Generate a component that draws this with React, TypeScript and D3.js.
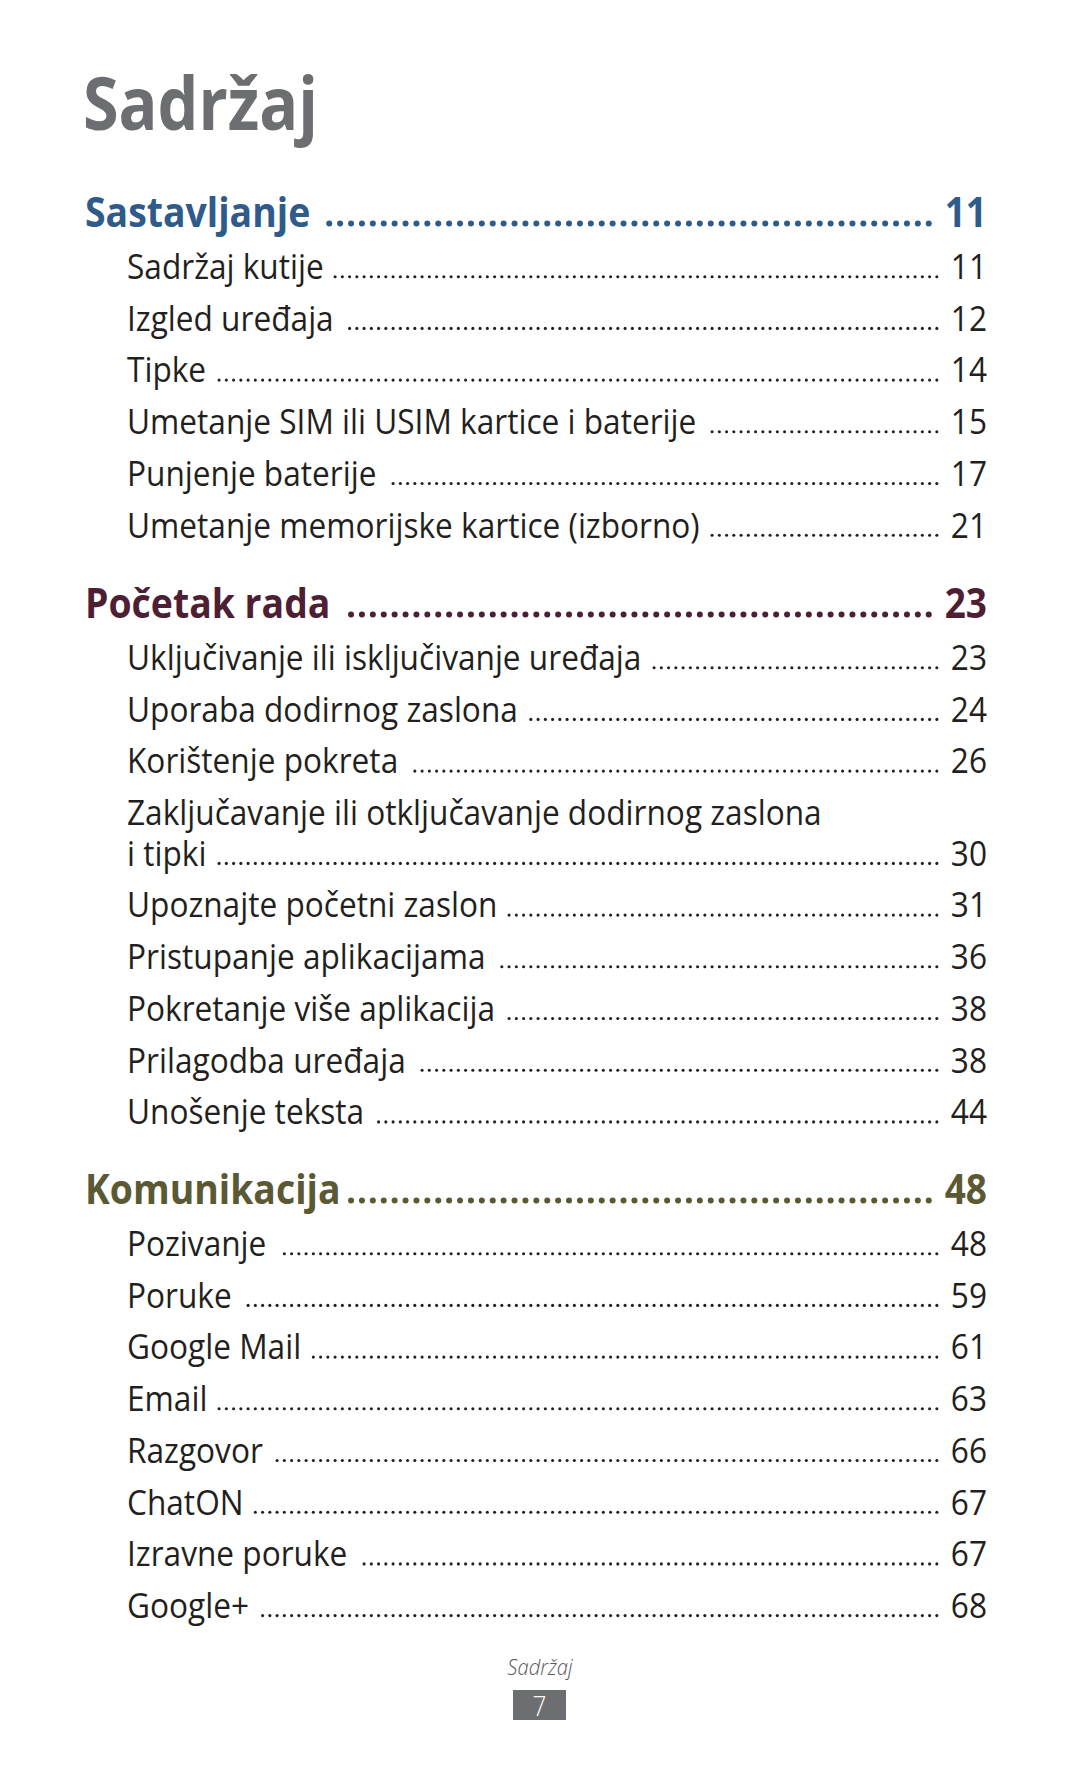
import React, { useEffect, useRef } from "react";
import * as d3 from "d3";

// ---- content ----
const pageTitle = "Sadržaj";
const sectionTitles = ["Sastavljanje", "Početak rada", "Komunikacija"];
const sectionPages = ["11", "23", "48"];
const sectionColors = ["#2f5b8b", "#4e1e34", "#5a5934"];

const sec1Entries = [
  "Sadržaj kutije",
  "Izgled uređaja",
  "Tipke",
  "Umetanje SIM ili USIM kartice i baterije",
  "Punjenje baterije",
  "Umetanje memorijske kartice (izborno)",
];
const sec1Pages = ["11", "12", "14", "15", "17", "21"];

const sec2Entries = [
  "Uključivanje ili isključivanje uređaja",
  "Uporaba dodirnog zaslona",
  "Korištenje pokreta",
  "Zaključavanje ili otključavanje dodirnog zaslona|i tipki",
  "Upoznajte početni zaslon",
  "Pristupanje aplikacijama",
  "Pokretanje više aplikacija",
  "Prilagodba uređaja",
  "Unošenje teksta",
];
const sec2Pages = ["23", "24", "26", "30", "31", "36", "38", "38", "44"];

const sec3Entries = [
  "Pozivanje",
  "Poruke",
  "Google Mail",
  "Email",
  "Razgovor",
  "ChatON",
  "Izravne poruke",
  "Google+",
];
const sec3Pages = ["48", "59", "61", "63", "66", "67", "67", "68"];

const footerLabel = "Sadržaj";
const footerPage = "7";

const sections = [
  { entries: sec1Entries, pages: sec1Pages },
  { entries: sec2Entries, pages: sec2Pages },
  { entries: sec3Entries, pages: sec3Pages },
];

const FONT = "'Open Sans', 'Noto Sans', sans-serif";

export default function App() {
  const ref = useRef<SVGSVGElement>(null);

  useEffect(() => {
    const svg = d3.select(ref.current);
    svg.selectAll("*").remove();

    const leftX = 86;
    const entryX = 127;
    const rightX = 987;

    const addText = (
      str: string,
      x: number,
      y: number,
      size: number,
      weight: number,
      color: string,
      sx: number,
      anchor = "start",
      style = "normal"
    ) => {
      const t = svg
        .append("text")
        .attr("transform", `translate(${x},${y}) scale(${sx},1)`)
        .attr("text-anchor", anchor)
        .attr("font-family", FONT)
        .attr("font-size", size)
        .attr("font-weight", weight)
        .attr("font-style", style)
        .attr("fill", color)
        .text(str);
      const node = t.node() as SVGTextElement;
      return node.getComputedTextLength() * sx;
    };

    const leader = (
      startX: number,
      endX: number,
      y: number,
      spacing: number,
      r: number,
      color: string
    ) => {
      const xs = d3.range(endX, startX, -spacing);
      svg
        .append("g")
        .selectAll("circle")
        .data(xs)
        .join("circle")
        .attr("cx", (d) => d)
        .attr("cy", y)
        .attr("r", r)
        .attr("fill", color);
    };

    // title
    addText(pageTitle, leftX - 3, 130, 73, 700, "#6d6e71", 0.885);

    const headerBaselines = [227, 618, 1204];
    const rowStep = 51.7;
    const wrapStep = 40.6;
    const entryColor = "#231f20";

    sections.forEach((sec, si) => {
      const hy = headerBaselines[si];
      const color = sectionColors[si];
      const w = addText(sectionTitles[si], leftX - 1, hy, 42, 700, color, 0.89);
      const nw = addText(sectionPages[si], rightX, hy, 42, 700, color, 0.88, "end");
      leader(leftX + w + 9, rightX - nw - 16, hy - 3.6, 10.9, 3, color);

      let y = hy + 52;
      sec.entries.forEach((label, i) => {
        const lines = label.split("|");
        lines.forEach((ln, li) => {
          if (li > 0) y += wrapStep;
          const lw = addText(ln, entryX, y, 34, 400, entryColor, 0.93);
          if (li === lines.length - 1) {
            const pw = addText(sec.pages[i], rightX, y, 34, 400, entryColor, 0.93, "end");
            leader(entryX + lw + 11, rightX - pw - 14, y - 2.3, 7.25, 1.55, entryColor);
          }
        });
        y += rowStep;
      });
    });

    // footer
    addText(footerLabel, 540, 1675, 22, 300, "#58595b", 0.92, "middle", "italic");
    svg
      .append("rect")
      .attr("x", 513)
      .attr("y", 1690)
      .attr("width", 53)
      .attr("height", 30)
      .attr("fill", "#6d6e71");
    addText(footerPage, 539.5, 1716, 27, 300, "#ffffff", 0.9, "middle");
  }, []);

  return (
    <svg
      ref={ref}
      width={1080}
      height={1771}
      style={{ position: "absolute", left: 0, top: 0, background: "#ffffff", display: "block" }}
    />
  );
}
